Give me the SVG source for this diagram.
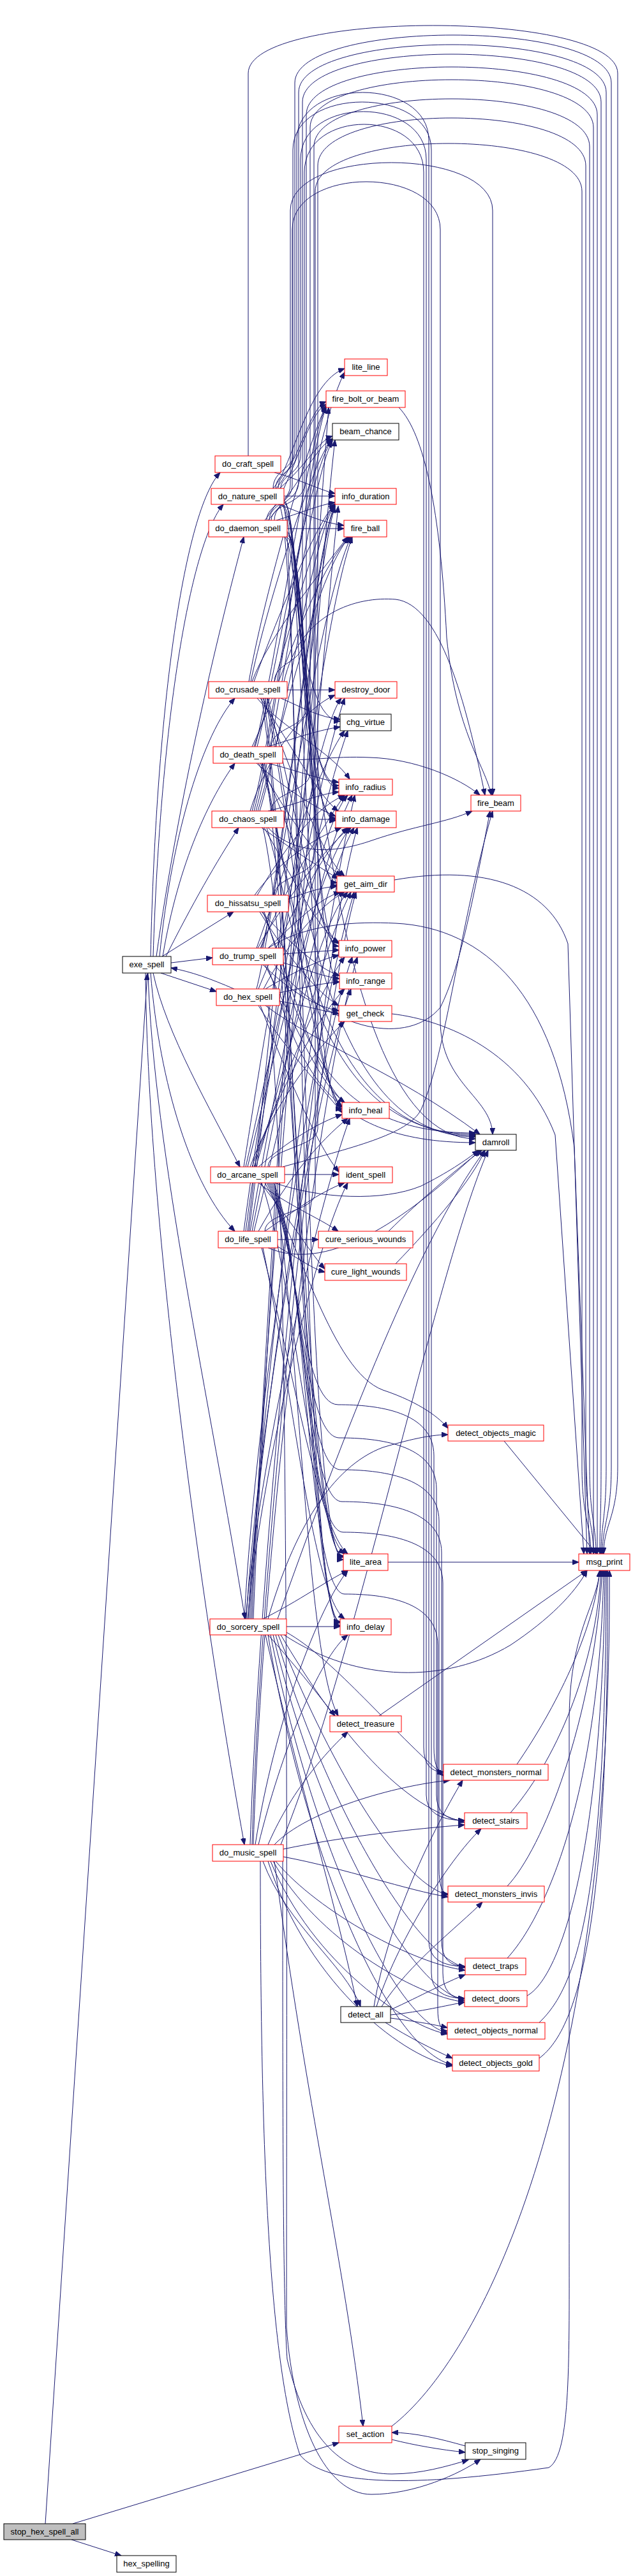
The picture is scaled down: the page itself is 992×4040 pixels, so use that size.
<svg xmlns="http://www.w3.org/2000/svg" width="992" height="4040" viewBox="0 0 992 4040">
<defs>
<marker id="ah" markerUnits="userSpaceOnUse" markerWidth="11" markerHeight="8" refX="10" refY="4" orient="auto"><path d="M0,0 L10,4 L0,8 z" fill="#191970" stroke="#191970"/></marker>
<style>
.e path{fill:none;stroke:#191970;stroke-width:1;marker-end:url(#ah)}
.n rect{fill:#ffffff;stroke:#ff0000;stroke-width:1}
.n.k rect{stroke:#000000}
.n.g rect{fill:#bfbfbf;stroke:#000000}
.n text{font-family:"Liberation Sans",Arial,sans-serif;font-size:13px;text-anchor:middle;fill:#000000}
</style>
</defs>
<rect width="992" height="4040" fill="#ffffff"/>
<g id="edges" class="e">
<path d="M71,3958 L231,1527"/>
<path d="M114,3958 L531,3831"/>
<path d="M112,3983 L190,4008"/>
<path d="M236,1500 C245,1100 290,800 345,741"/>
<path d="M240,1500 C252,1120 300,850 350,791"/>
<path d="M245,1500 C280,1250 340,1000 382,842"/>
<path d="M250,1500 C270,1300 320,1150 368,1095"/>
<path d="M255,1500 C280,1350 330,1250 368,1197"/>
<path d="M260,1500 C300,1420 340,1350 374,1298"/>
<path d="M254,1500 L366,1430"/>
<path d="M268,1510 L333,1502"/>
<path d="M252,1526 L339,1555"/>
<path d="M367,1551 C330,1535 300,1524 268,1518"/>
<path d="M240,1526 C260,1620 330,1740 376,1830"/>
<path d="M236,1526 C250,1700 300,1860 368,1931"/>
<path d="M232,1526 C240,1800 330,2200 384,2539"/>
<path d="M228,1526 C232,1950 330,2600 383,2893"/>
<path d="M430,741 C470,752 500,768 525,774"/>
<path d="M389,715 L389,115 C389,15 968,15 968,115 L968,2300 C968,2380 946,2390 946,2437"/>
<path d="M428,766 C428,736 462,736 462,706 L462,130 C462,30 958,30 958,130 L958,2300 C958,2380 944,2390 944,2437"/>
<path d="M430,816 C430,786 468,786 468,756 L468,145 C468,45 950,45 950,145 L950,2300 C950,2380 942,2390 942,2437"/>
<path d="M430,1069 C430,1039 474,1039 474,1009 L474,160 C474,60 942,60 942,160 L942,2300 C942,2380 940,2390 940,2437"/>
<path d="M425,1171 C425,1141 480,1141 480,1111 L480,180 C480,80 936,80 936,180 L936,2437"/>
<path d="M425,1272 C425,1242 486,1242 486,1212 L486,200 C486,100 930,100 930,200 L930,2437"/>
<path d="M430,1404 C430,1374 492,1374 492,1344 L492,230 C492,130 924,130 924,230 L924,2300 C924,2380 934,2390 934,2437"/>
<path d="M420,1830 C420,1800 498,1800 498,1770 L498,260 C498,160 918,160 918,260 L918,2300 C918,2380 930,2390 930,2437"/>
<path d="M415,1931 C415,1901 494,1901 494,1871 L494,300 C494,200 912,200 912,300 L912,2300 C912,2380 926,2390 926,2437"/>
<path d="M432,766 C432,740 465,740 465,710 L465,220 C465,120 672,120 672,220 L672,3044 Q672,3084 729,3084"/>
<path d="M436,766 C436,742 459,742 459,712 L459,235 C459,135 676,135 676,235 L676,3094 Q676,3134 728,3134"/>
<path d="M440,766 C440,744 471,744 471,714 L471,250 C471,150 668,150 668,250 L668,2815 Q668,2855 728,2855"/>
<path d="M425,816 C425,790 477,790 477,760 L477,270 C477,170 664,170 664,270 L664,2740 Q664,2779 695,2779"/>
<path d="M418,816 C418,790 455,790 455,760 L455,330 C455,230 772,230 772,330 L772,1247"/>
<path d="M422,816 C422,790 458,790 458,760 L458,360 C458,260 690,260 690,360 L690,1600 C690,1700 770,1720 772,1779"/>
<path d="M428,766 C460,730 480,600 540,578"/>
<path d="M433,766 C470,720 485,640 511,630"/>
<path d="M438,766 C480,730 500,690 521,684"/>
<path d="M445,778 L525,778"/>
<path d="M437,791 C475,805 505,820 539,824"/>
<path d="M445,787 C470,787 470,1283 526,1283"/>
<path d="M445,785 C466,785 466,1232 531,1232"/>
<path d="M445,789 C474,789 474,1384 528,1384"/>
<path d="M440,791 C478,791 478,1739 536,1739"/>
<path d="M436,791 C472,791 472,2446 538,2446"/>
<path d="M442,791 C482,791 482,1786 745,1786"/>
<path d="M443,791 C468,791 468,2549 533,2549"/>
<path d="M415,816 C460,760 480,650 511,634"/>
<path d="M420,816 C470,760 495,700 521,688"/>
<path d="M433,816 C470,805 500,792 525,788"/>
<path d="M450,829 L539,829"/>
<path d="M450,836 C476,836 476,1287 526,1287"/>
<path d="M450,834 C470,834 470,1236 531,1236"/>
<path d="M450,838 C480,838 480,1389 528,1389"/>
<path d="M450,840 C484,840 484,1490 531,1490"/>
<path d="M448,842 C488,842 488,1540 532,1540"/>
<path d="M445,842 C465,842 465,1131 533,1131"/>
<path d="M450,1082 L525,1082"/>
<path d="M440,1095 C475,1110 500,1125 533,1128"/>
<path d="M403,1095 C440,1140 520,1180 548,1222"/>
<path d="M408,1095 C450,1160 500,1250 530,1272"/>
<path d="M412,1095 C455,1200 500,1340 540,1374"/>
<path d="M395,1069 C420,1000 500,900 545,842"/>
<path d="M390,1069 C410,950 480,700 511,636"/>
<path d="M393,1069 C415,960 490,720 521,688"/>
<path d="M398,1069 C430,980 495,820 525,790"/>
<path d="M415,1095 C462,1300 490,1700 536,1737"/>
<path d="M418,1095 C466,1300 490,1783 745,1783"/>
<path d="M445,1069 C470,960 560,935 620,940 C690,948 730,1100 760,1247"/>
<path d="M420,1095 C470,1300 500,1480 531,1484"/>
<path d="M410,1095 C458,1400 480,2440 538,2442"/>
<path d="M413,1095 C460,1400 482,2545 533,2545"/>
<path d="M420,1171 C470,1155 500,1145 533,1140"/>
<path d="M420,1197 C470,1210 500,1222 531,1227"/>
<path d="M402,1197 C450,1240 500,1270 526,1280"/>
<path d="M443,1190 C480,1195 520,1185 580,1188 C650,1190 720,1220 752,1247"/>
<path d="M405,1197 C450,1280 500,1350 535,1374"/>
<path d="M395,1171 C430,1100 490,900 548,842"/>
<path d="M400,1171 C430,1050 480,700 511,638"/>
<path d="M403,1171 C433,1050 485,730 521,690"/>
<path d="M398,1171 C432,1080 490,830 525,790"/>
<path d="M408,1197 C460,1300 500,1460 531,1480"/>
<path d="M410,1197 C460,1400 495,1700 536,1735"/>
<path d="M412,1197 C462,1400 488,1781 745,1781"/>
<path d="M415,1197 C462,1500 480,2543 533,2543"/>
<path d="M445,1285 L526,1285"/>
<path d="M420,1272 C470,1260 500,1245 531,1242"/>
<path d="M420,1298 C460,1340 520,1340 583,1318 C650,1295 700,1290 740,1272"/>
<path d="M395,1272 C430,1150 480,700 540,584"/>
<path d="M398,1272 C432,1150 482,720 511,638"/>
<path d="M401,1272 C436,1150 486,750 521,692"/>
<path d="M404,1272 C440,1150 495,900 548,842"/>
<path d="M407,1272 C444,1150 492,830 525,792"/>
<path d="M410,1298 C455,1330 500,1360 530,1378"/>
<path d="M414,1298 C460,1380 500,1460 531,1478"/>
<path d="M418,1298 C465,1450 488,1779 745,1779"/>
<path d="M412,1298 C460,1500 478,2438 538,2440"/>
<path d="M392,1272 C420,1180 480,1110 525,1090"/>
<path d="M452,1410 C480,1400 500,1392 528,1390"/>
<path d="M399,1404 C430,1360 480,1320 535,1298"/>
<path d="M403,1404 C435,1350 485,1270 540,1247"/>
<path d="M407,1430 C450,1500 500,1560 531,1577"/>
<path d="M410,1430 C455,1480 500,1520 532,1530"/>
<path d="M414,1430 C470,1600 490,1777 745,1777"/>
<path d="M412,1430 C460,1550 500,1700 540,1729"/>
<path d="M444,1496 L531,1490"/>
<path d="M444,1510 C480,1520 500,1530 532,1535"/>
<path d="M420,1487 C470,1440 500,1410 533,1399"/>
<path d="M404,1487 C440,1420 510,1330 548,1298"/>
<path d="M408,1487 C444,1400 510,1290 540,1247"/>
<path d="M410,1487 C446,1350 500,950 550,842"/>
<path d="M412,1487 C450,1300 495,850 525,792"/>
<path d="M412,1513 C460,1560 500,1580 531,1585"/>
<path d="M420,1487 C480,1448 560,1445 620,1448 C760,1455 870,1560 900,1800 L924,2437"/>
<path d="M415,1513 C460,1600 500,1700 540,1729"/>
<path d="M418,1513 C470,1650 490,1792 745,1792"/>
<path d="M430,1513 C520,1620 640,1640 690,1580 C720,1520 740,1420 768,1272"/>
<path d="M402,1487 C440,1380 500,1200 540,1146"/>
<path d="M438,1557 C480,1548 505,1542 532,1540"/>
<path d="M438,1570 C480,1578 505,1585 531,1590"/>
<path d="M416,1551 C450,1530 500,1505 531,1498"/>
<path d="M413,1551 C450,1480 500,1420 540,1399"/>
<path d="M405,1577 C450,1650 500,1700 536,1745"/>
<path d="M408,1577 C455,1700 500,1800 531,1838"/>
<path d="M416,1577 C500,1640 620,1680 752,1779"/>
<path d="M420,1577 C455,1800 449,3000 449,3650 C460,3800 510,3912 582,3912 C650,3912 720,3880 753,3857"/>
<path d="M402,1551 C440,1400 495,850 525,794"/>
<path d="M405,1551 C445,1450 510,1330 545,1298"/>
<path d="M446,1842 L531,1842"/>
<path d="M405,1830 C450,1790 500,1760 536,1748"/>
<path d="M443,1830 C550,1800 640,1780 660,1740 C700,1650 720,1450 772,1272"/>
<path d="M430,1855 C500,1880 600,1885 660,1860 C700,1840 730,1820 750,1804"/>
<path d="M405,1855 C450,1890 500,1910 530,1931"/>
<path d="M408,1855 C460,1920 490,1970 509,1990"/>
<path d="M392,1830 C420,1750 490,1650 540,1602"/>
<path d="M395,1830 C425,1740 492,1600 540,1551"/>
<path d="M398,1830 C430,1730 495,1560 540,1501"/>
<path d="M401,1830 C435,1720 498,1450 545,1399"/>
<path d="M388,1830 C420,1700 497,1350 550,1298"/>
<path d="M385,1830 C415,1700 495,1300 545,1247"/>
<path d="M382,1830 C410,1650 490,1150 535,1095"/>
<path d="M410,1855 C460,2000 490,2400 540,2437"/>
<path d="M415,1855 C470,1950 520,2150 600,2180 C660,2200 690,2225 702,2240"/>
<path d="M418,1855 C470,1950 470,2203 530,2203 S680,2213 680,2283 L680,2740 Q680,2779 695,2779"/>
<path d="M420,1855 C472,1950 472,2255 532,2255 S684,2265 684,2335 L684,2815 Q684,2855 728,2855"/>
<path d="M422,1855 C474,1950 474,2305 534,2305 S688,2315 688,2385 L688,2930 Q688,2970 702,2970"/>
<path d="M424,1855 C476,1950 476,2355 536,2355 S692,2365 692,2435 L692,3044 Q692,3084 729,3084"/>
<path d="M426,1855 C478,1950 478,2403 538,2403 S694,2413 694,2483 L694,3094 Q694,3134 728,3134"/>
<path d="M428,1855 C480,1950 480,2500 540,2500 S686,2510 686,2580 L686,3150 Q686,3185 701,3185"/>
<path d="M430,1855 C470,2100 480,2600 530,2691"/>
<path d="M435,1944 L499,1944"/>
<path d="M415,1931 C460,1900 500,1870 540,1855"/>
<path d="M405,1931 C450,1850 500,1790 545,1754"/>
<path d="M435,1955 C470,1975 490,1990 509,1995"/>
<path d="M398,1931 C430,1800 497,1500 550,1399"/>
<path d="M395,1931 C425,1780 495,1400 555,1298"/>
<path d="M392,1931 C422,1760 495,1350 552,1247"/>
<path d="M388,1931 C418,1700 490,900 525,794"/>
<path d="M390,1931 C420,1700 495,1000 552,842"/>
<path d="M385,1931 C415,1700 490,1300 545,1146"/>
<path d="M382,1931 C412,1700 488,1250 540,1095"/>
<path d="M410,1957 C460,2150 500,2400 545,2437"/>
<path d="M420,1957 C520,2000 650,1900 752,1804"/>
<path d="M412,1957 C462,2200 490,2500 540,2539"/>
<path d="M449,2551 L533,2551"/>
<path d="M412,2539 C470,2510 510,2480 545,2463"/>
<path d="M420,2564 C470,2620 500,2660 525,2691"/>
<path d="M388,2539 C410,2300 495,1950 545,1855"/>
<path d="M385,2539 C405,2300 495,1900 548,1754"/>
<path d="M383,2539 C400,2200 495,1600 555,1399"/>
<path d="M386,2539 C402,2250 495,1700 550,1551"/>
<path d="M389,2539 C404,2240 497,1650 552,1501"/>
<path d="M391,2539 C406,2200 497,1500 556,1247"/>
<path d="M393,2539 C410,2150 498,1100 530,794"/>
<path d="M395,2539 C412,2100 495,900 515,639"/>
<path d="M397,2539 C414,2100 495,950 525,690"/>
<path d="M420,2539 C460,2400 520,2300 600,2270 C650,2255 680,2250 702,2250"/>
<path d="M449,2560 C520,2600 600,2700 695,2785"/>
<path d="M440,2564 C520,2700 620,2830 728,2858"/>
<path d="M436,2564 C510,2750 620,2950 702,2972"/>
<path d="M432,2564 C500,2800 640,3060 729,3086"/>
<path d="M428,2564 C495,2850 640,3120 728,3137"/>
<path d="M424,2564 C490,2900 620,3170 701,3188"/>
<path d="M420,2564 C485,2950 620,3220 709,3238"/>
<path d="M416,2564 C470,2800 530,3000 560,3147"/>
<path d="M445,2564 C560,2640 700,2640 800,2580 C860,2540 900,2500 920,2463"/>
<path d="M435,2539 C520,2300 650,1950 760,1804"/>
<path d="M430,2893 C480,2840 620,2800 705,2792"/>
<path d="M444,2900 C540,2880 650,2868 728,2862"/>
<path d="M444,2912 C540,2930 640,2965 702,2975"/>
<path d="M432,2919 C500,3000 650,3080 729,3090"/>
<path d="M428,2919 C495,3040 650,3130 728,3140"/>
<path d="M424,2919 C490,3080 640,3180 701,3190"/>
<path d="M420,2919 C485,3120 640,3230 709,3240"/>
<path d="M412,2919 C450,3020 540,3080 565,3147"/>
<path d="M420,2893 C460,2800 520,2740 545,2716"/>
<path d="M430,2919 C480,3300 540,3550 569,3805"/>
<path d="M443,2919 C443,3300 443,3600 450,3700 C480,3830 540,3880 614,3880 C660,3880 700,3868 734,3858"/>
<path d="M408,2919 C408,3350 420,3700 470,3850 C510,3900 650,3900 860,3870 C895,3850 892,3700 892,3500 L892,2700 C892,2560 935,2520 940,2463"/>
<path d="M400,2893 C430,2700 500,2520 545,2463"/>
<path d="M405,2893 C440,2750 500,2600 545,2564"/>
<path d="M395,2893 C410,2400 500,1600 558,1399"/>
<path d="M397,2893 C412,2400 500,1700 560,1501"/>
<path d="M392,2893 C408,2400 500,1500 560,1298"/>
<path d="M440,2893 C560,2600 680,2000 765,1804"/>
<path d="M590,3147 C620,3050 700,2920 754,2868"/>
<path d="M598,3147 C640,3080 720,3020 756,2983"/>
<path d="M612,3152 C660,3130 700,3108 729,3097"/>
<path d="M612,3160 C660,3155 700,3145 728,3140"/>
<path d="M612,3165 C650,3170 680,3175 701,3180"/>
<path d="M604,3172 C640,3195 680,3215 709,3228"/>
<path d="M586,3147 C610,3000 690,2850 725,2792"/>
<path d="M790,2260 L935,2437"/>
<path d="M810,2767 C870,2680 930,2560 940,2463"/>
<path d="M800,2843 C880,2750 935,2600 942,2463"/>
<path d="M795,2958 C850,2900 930,2700 944,2463"/>
<path d="M795,3071 C860,3000 940,2800 946,2463"/>
<path d="M826,3130 C880,3100 945,2900 948,2463"/>
<path d="M845,3172 C900,3120 950,3000 950,2463"/>
<path d="M845,3228 C910,3180 955,3000 952,2463"/>
<path d="M594,2691 L920,2463"/>
<path d="M608,2450 L907,2450"/>
<path d="M614,3805 C750,3700 960,3300 955,2463"/>
<path d="M614,3826 C650,3835 690,3842 729,3846"/>
<path d="M729,3836 C690,3825 650,3815 614,3815"/>
<path d="M625,639 C665,680 690,800 700,1000 C715,1150 760,1200 770,1247"/>
<path d="M609,1931 C660,1880 720,1830 755,1804"/>
<path d="M620,1982 C680,1920 740,1850 760,1804"/>
<path d="M618,1380 C760,1355 860,1390 890,1480 L920,2437"/>
<path d="M614,1590 C700,1600 820,1650 870,1780 L915,2437"/>
</g>
<g id="stop_hex_spell_all" class="n g"><rect x="6" y="3958" width="128" height="25"/><text x="70" y="3975">stop_hex_spell_all</text></g>
<g id="exe_spell" class="n k"><rect x="192" y="1500" width="76" height="26"/><text x="230" y="1517">exe_spell</text></g>
<g id="hex_spelling" class="n k"><rect x="183" y="4008" width="93" height="26"/><text x="229.5" y="4025">hex_spelling</text></g>
<g id="do_craft_spell" class="n"><rect x="337" y="715" width="103" height="26"/><text x="388.5" y="732">do_craft_spell</text></g>
<g id="do_nature_spell" class="n"><rect x="331" y="766" width="114" height="25"/><text x="388" y="783">do_nature_spell</text></g>
<g id="do_daemon_spell" class="n"><rect x="327" y="816" width="123" height="26"/><text x="388.5" y="833">do_daemon_spell</text></g>
<g id="do_crusade_spell" class="n"><rect x="327" y="1069" width="123" height="26"/><text x="388.5" y="1086">do_crusade_spell</text></g>
<g id="do_death_spell" class="n"><rect x="334" y="1171" width="109" height="26"/><text x="388.5" y="1188">do_death_spell</text></g>
<g id="do_chaos_spell" class="n"><rect x="332" y="1272" width="113" height="26"/><text x="388.5" y="1289">do_chaos_spell</text></g>
<g id="do_hissatsu_spell" class="n"><rect x="325" y="1404" width="127" height="26"/><text x="388.5" y="1421">do_hissatsu_spell</text></g>
<g id="do_trump_spell" class="n"><rect x="333" y="1487" width="111" height="26"/><text x="388.5" y="1504">do_trump_spell</text></g>
<g id="do_hex_spell" class="n"><rect x="339" y="1551" width="99" height="26"/><text x="388.5" y="1568">do_hex_spell</text></g>
<g id="do_arcane_spell" class="n"><rect x="330" y="1830" width="116" height="25"/><text x="388" y="1847">do_arcane_spell</text></g>
<g id="do_life_spell" class="n"><rect x="342" y="1931" width="93" height="26"/><text x="388.5" y="1948">do_life_spell</text></g>
<g id="do_sorcery_spell" class="n"><rect x="329" y="2539" width="120" height="25"/><text x="389" y="2556">do_sorcery_spell</text></g>
<g id="do_music_spell" class="n"><rect x="333" y="2893" width="111" height="26"/><text x="388.5" y="2910">do_music_spell</text></g>
<g id="lite_line" class="n"><rect x="540" y="563" width="67" height="26"/><text x="573.5" y="580">lite_line</text></g>
<g id="fire_bolt_or_beam" class="n"><rect x="511" y="613" width="124" height="26"/><text x="573" y="630">fire_bolt_or_beam</text></g>
<g id="beam_chance" class="n k"><rect x="521" y="664" width="104" height="26"/><text x="573" y="681">beam_chance</text></g>
<g id="info_duration" class="n"><rect x="525" y="766" width="96" height="25"/><text x="573" y="783">info_duration</text></g>
<g id="fire_ball" class="n"><rect x="539" y="816" width="67" height="26"/><text x="572.5" y="833">fire_ball</text></g>
<g id="destroy_door" class="n"><rect x="525" y="1069" width="97" height="26"/><text x="573.5" y="1086">destroy_door</text></g>
<g id="chg_virtue" class="n k"><rect x="533" y="1120" width="80" height="26"/><text x="573" y="1137">chg_virtue</text></g>
<g id="info_radius" class="n"><rect x="531" y="1222" width="84" height="25"/><text x="573" y="1239">info_radius</text></g>
<g id="info_damage" class="n"><rect x="526" y="1272" width="95" height="26"/><text x="573.5" y="1289">info_damage</text></g>
<g id="get_aim_dir" class="n"><rect x="528" y="1374" width="90" height="25"/><text x="573" y="1391">get_aim_dir</text></g>
<g id="info_power" class="n"><rect x="531" y="1475" width="83" height="26"/><text x="572.5" y="1492">info_power</text></g>
<g id="info_range" class="n"><rect x="532" y="1526" width="82" height="25"/><text x="573" y="1543">info_range</text></g>
<g id="get_check" class="n"><rect x="531" y="1577" width="83" height="25"/><text x="572.5" y="1594">get_check</text></g>
<g id="info_heal" class="n"><rect x="536" y="1729" width="74" height="25"/><text x="573" y="1746">info_heal</text></g>
<g id="ident_spell" class="n"><rect x="531" y="1830" width="84" height="25"/><text x="573" y="1847">ident_spell</text></g>
<g id="cure_serious_wounds" class="n"><rect x="499" y="1931" width="148" height="26"/><text x="573" y="1948">cure_serious_wounds</text></g>
<g id="cure_light_wounds" class="n"><rect x="509" y="1982" width="128" height="26"/><text x="573" y="1999">cure_light_wounds</text></g>
<g id="lite_area" class="n"><rect x="538" y="2437" width="70" height="26"/><text x="573" y="2454">lite_area</text></g>
<g id="info_delay" class="n"><rect x="533" y="2539" width="80" height="25"/><text x="573" y="2556">info_delay</text></g>
<g id="detect_treasure" class="n"><rect x="517" y="2691" width="112" height="25"/><text x="573" y="2708">detect_treasure</text></g>
<g id="detect_all" class="n k"><rect x="534" y="3147" width="78" height="25"/><text x="573" y="3164">detect_all</text></g>
<g id="set_action" class="n"><rect x="531" y="3805" width="83" height="26"/><text x="572.5" y="3822">set_action</text></g>
<g id="fire_beam" class="n"><rect x="738" y="1247" width="78" height="25"/><text x="777" y="1264">fire_beam</text></g>
<g id="damroll" class="n k"><rect x="745" y="1779" width="64" height="25"/><text x="777" y="1796">damroll</text></g>
<g id="detect_objects_magic" class="n"><rect x="702" y="2235" width="150" height="25"/><text x="777" y="2252">detect_objects_magic</text></g>
<g id="detect_monsters_normal" class="n"><rect x="695" y="2767" width="164" height="25"/><text x="777" y="2784">detect_monsters_normal</text></g>
<g id="detect_stairs" class="n"><rect x="728" y="2843" width="98" height="25"/><text x="777" y="2860">detect_stairs</text></g>
<g id="detect_monsters_invis" class="n"><rect x="702" y="2958" width="151" height="25"/><text x="777.5" y="2975">detect_monsters_invis</text></g>
<g id="detect_traps" class="n"><rect x="729" y="3071" width="95" height="26"/><text x="776.5" y="3088">detect_traps</text></g>
<g id="detect_doors" class="n"><rect x="728" y="3122" width="98" height="25"/><text x="777" y="3139">detect_doors</text></g>
<g id="detect_objects_normal" class="n"><rect x="701" y="3172" width="153" height="26"/><text x="777.5" y="3189">detect_objects_normal</text></g>
<g id="detect_objects_gold" class="n"><rect x="709" y="3223" width="136" height="25"/><text x="777" y="3240">detect_objects_gold</text></g>
<g id="stop_singing" class="n k"><rect x="729" y="3831" width="95" height="26"/><text x="776.5" y="3848">stop_singing</text></g>
<g id="msg_print" class="n"><rect x="907" y="2437" width="80" height="26"/><text x="947" y="2454">msg_print</text></g>
</svg>
